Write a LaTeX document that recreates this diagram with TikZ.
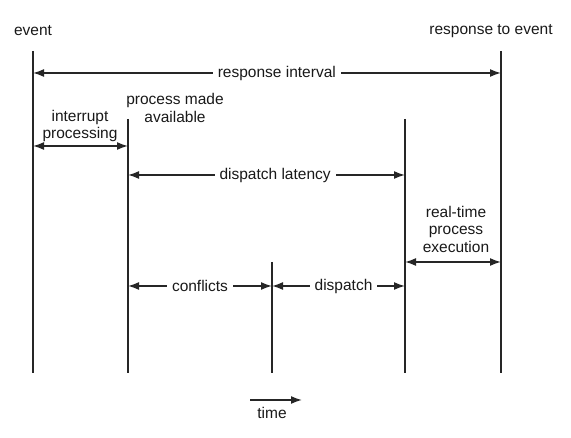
\documentclass[tikz,border=0pt]{standalone}
\usepackage{fontspec}
\setmainfont{Liberation Sans}
\usetikzlibrary{arrows.meta}
\begin{document}
\begin{tikzpicture}[x=1pt,y=-1pt,
  font=\fontsize{15.5}{17.5}\selectfont,
  vline/.style={line width=1.7pt,draw=black!85},
  dim/.style={line width=1.6pt,draw=black!85,{Latex[length=11pt,width=8pt]}-{Latex[length=11pt,width=8pt]}},
  lbl/.style={fill=white,inner xsep=5pt,inner ysep=4pt,text=black!90},
  txt/.style={align=center,inner sep=0pt,text=black!90}]
\useasboundingbox (0,0) rectangle (571,438);
% vertical lines
\coordinate (e1) at (33,51);   \coordinate (e2) at (33,373);
\coordinate (p1) at (128,119); \coordinate (p2) at (128,373);
\coordinate (c1) at (272,262); \coordinate (c2) at (272,373);
\coordinate (d1) at (405,119); \coordinate (d2) at (405,373);
\coordinate (r1) at (501,51);  \coordinate (r2) at (501,373);
\draw[vline] (e1) -- (e2);
\draw[vline] (p1) -- (p2);
\draw[vline] (c1) -- (c2);
\draw[vline] (d1) -- (d2);
\draw[vline] (r1) -- (r2);
% top labels
\node[txt] (ev) at (33,31) {event};
\node[txt] (rte) at (491,31) {response to event};
\node[txt] (pma) at (175,108) {process made\\available};
\node[txt] (ip) at (80,126) {interrupt\\processing};
\node[txt] (rtp) at (456,229) {real-time\\process\\execution};
% dimension arrows
\coordinate (a1) at (33,73);  \coordinate (a2) at (501,73);
\draw[dim] (a1) -- node[lbl,pos=0.521] (ri) {response interval} (a2);
\coordinate (b1) at (33,146); \coordinate (b2) at (128,146);
\draw[dim] (b1) -- (b2);
\coordinate (l1) at (128,175); \coordinate (l2) at (405,175);
\draw[dim] (l1) -- node[lbl,pos=0.531] (dl) {dispatch latency} (l2);
\coordinate (x1) at (405,262); \coordinate (x2) at (501,262);
\draw[dim] (x1) -- (x2);
\coordinate (k1) at (128,286); \coordinate (k2) at (272,286);
\draw[dim] (k1) -- node[lbl,pos=0.5] (cf) {conflicts} (k2);
\coordinate (s1) at (272,286); \coordinate (s2) at (405,286);
\draw[dim] (s1) -- node[lbl,pos=0.538] (dp) {dispatch} (s2);
% time arrow
\coordinate (t1) at (250,400); \coordinate (t2) at (302,400);
\draw[line width=1.6pt,draw=black!85,-{Latex[length=11pt,width=8pt]}] (t1) -- (t2);
\node[txt] (tm) at (272,413) {time};
\end{tikzpicture}
\end{document}
